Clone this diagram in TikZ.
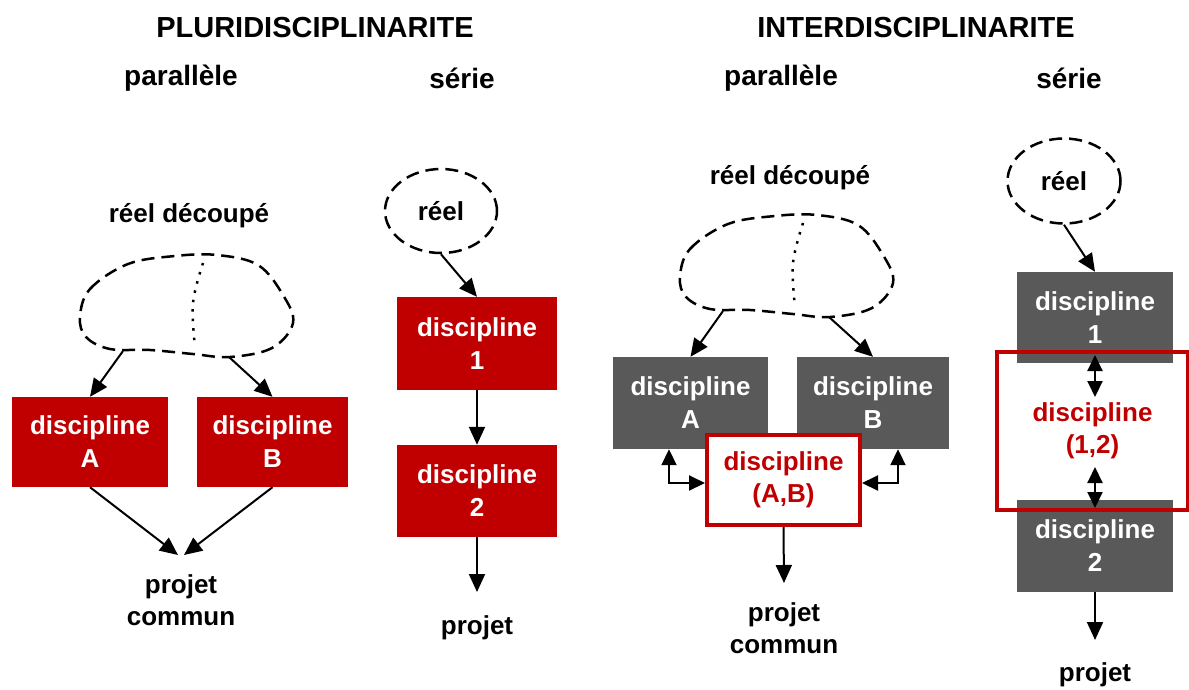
\documentclass[tikz,border=0pt]{standalone}
\usepackage{fontspec}
\setmainfont{Liberation Sans}
\usetikzlibrary{arrows.meta,shapes.geometric}
\definecolor{dred}{HTML}{C00000}
\definecolor{dgray}{HTML}{595959}
\tikzset{
  lbl/.style={font=\bfseries\fontsize{26}{32}\selectfont, align=center, inner sep=0pt},
  head/.style={font=\bfseries\fontsize{28}{34}\selectfont, inner sep=0pt},
  redbox/.style={fill=dred, text=white, font=\bfseries\fontsize{26}{33}\selectfont, align=center, inner sep=0pt},
  graybox/.style={fill=dgray, text=white, font=\bfseries\fontsize{26}{33}\selectfont, align=center, inner sep=0pt},
  framebox/.style={draw=dred, line width=4pt, text=dred, font=\bfseries\fontsize{26}{32}\selectfont, align=center, inner sep=0pt},
  cloudline/.style={line width=2.5pt, dash pattern=on 13pt off 7pt},
  divline/.style={line width=2.5pt, dash pattern=on 2.5pt off 7pt},
  conn/.style={line width=2pt, -{Triangle[length=18pt,width=16pt]}},
  dconn/.style={line width=2pt, {Triangle[length=16pt,width=15pt]}-{Triangle[length=16pt,width=15pt]}},
  reel/.style={ellipse, draw, cloudline, font=\bfseries\fontsize{26}{32}\selectfont, inner sep=0pt},
}
\newcommand{\mycloud}{%
  \draw[cloudline] plot[smooth cycle, tension=0.6] coordinates {
    (80,317) (90,289) (128,264) (175,256) (217,255) (258,265) (283,295)
    (293,323) (272,348) (230,357) (193,354) (150,350) (110,349) (86,337)};
  \draw[divline] plot[smooth, tension=0.6] coordinates {(203,263) (193,303) (195,347)};
  \coordinate (cl) at (123,351);
  \coordinate (cr) at (229,357);
}
\begin{document}
\begin{tikzpicture}[x=1pt,y=-1pt]
\useasboundingbox (0,0) rectangle (1189,689);
% titles
\node[head, font=\bfseries\fontsize{29}{34}\selectfont] (t1) at (315,28) {PLURIDISCIPLINARITE};
\node[head, font=\bfseries\fontsize{29}{34}\selectfont] (t2) at (916,28) {INTERDISCIPLINARITE};
\node[head] (h1) at (181,78) {parallèle};
\node[head] (h2) at (462,78) {série};
\node[head] (h3) at (781,78) {parallèle};
\node[head] (h4) at (1069,78) {série};

% ---------- pluri parallele
\node[lbl] (rd1) at (189,216) {réel découpé};
\begin{scope}
\mycloud
\coordinate (c1l) at (cl);
\coordinate (c1r) at (cr);
\end{scope}
\node[redbox, minimum width=156pt, minimum height=90pt] (A) at (90,442) {discipline\\A};
\node[redbox, minimum width=151pt, minimum height=90pt] (B) at (272.5,442) {discipline\\B};
\draw[conn] (c1l) -- (A.north);
\draw[conn] (c1r) -- (B.north);
\coordinate (pl) at (178,555);
\coordinate (pr) at (184,555);
\draw[conn] (A.south) -- (pl);
\draw[conn] (B.south) -- (pr);
\node[lbl] (pc1) at (181,600) {projet\\commun};

% ---------- pluri serie
\node[reel, minimum width=112pt, minimum height=84pt] (R1) at (441,211) {réel};
\node[redbox, minimum width=160pt, minimum height=93pt] (S1) at (477,343.5) {discipline\\1};
\node[redbox, minimum width=160pt, minimum height=92pt] (S2) at (477,491) {discipline\\2};
\draw[conn] (R1.south) -- (S1.north);
\draw[conn] (S1.south) -- (S2.north);
\coordinate (sp) at (477,592);
\draw[conn] (S2.south) -- (sp);
\node[lbl] (pj1) at (477,628) {projet};

% ---------- inter parallele
\node[lbl] (rd2) at (790,178) {réel découpé};
\begin{scope}[shift={(600,-40)}]
\mycloud
\coordinate (c2l) at (cl);
\coordinate (c2r) at (cr);
\end{scope}
\node[graybox, minimum width=155pt, minimum height=92pt] (A2) at (690.5,403) {discipline\\A};
\node[graybox, minimum width=152pt, minimum height=92pt] (B2) at (873,403) {discipline\\B};
\draw[conn] (c2l) -- (A2.north);
\draw[conn] (c2r) -- (B2.north);
\node[framebox, fill=white, minimum width=153pt, minimum height=90pt] (AB) at (783.5,480) {discipline\\(A,B)};
\draw[dconn] ([xshift=-21.5pt]A2.south) |- ([yshift=-3pt]AB.west);
\draw[dconn] ([yshift=-3pt]AB.east) -| ([xshift=25pt]B2.south);
\coordinate (ip) at (784,583);
\draw[conn] (AB.south) -- (ip);
\node[lbl] (pc2) at (784,628) {projet\\commun};

% ---------- inter serie
\node[reel, minimum width=113pt, minimum height=85pt] (R2) at (1064,181) {réel};
\node[graybox, minimum width=156pt, minimum height=91pt] (T1) at (1095,317.5) {discipline\\1};
\node[graybox, minimum width=156pt, minimum height=92pt] (T2) at (1095,546) {discipline\\2};
\draw[conn] (R2.south) -- (T1.north);
\node[framebox, minimum width=191pt, minimum height=158pt] (T12) at (1092.5,431) {discipline\\(1,2)};
\coordinate (d1a) at (1095,355);
\coordinate (d1b) at (1095,397);
\coordinate (d2a) at (1095,467);
\coordinate (d2b) at (1095,508);
\draw[dconn] (d1a) -- (d1b);
\draw[dconn] (d2a) -- (d2b);
\coordinate (tp) at (1095,640);
\draw[conn] (T2.south) -- (tp);
\node[lbl] (pj2) at (1095,675) {projet};
\end{tikzpicture}
\end{document}
